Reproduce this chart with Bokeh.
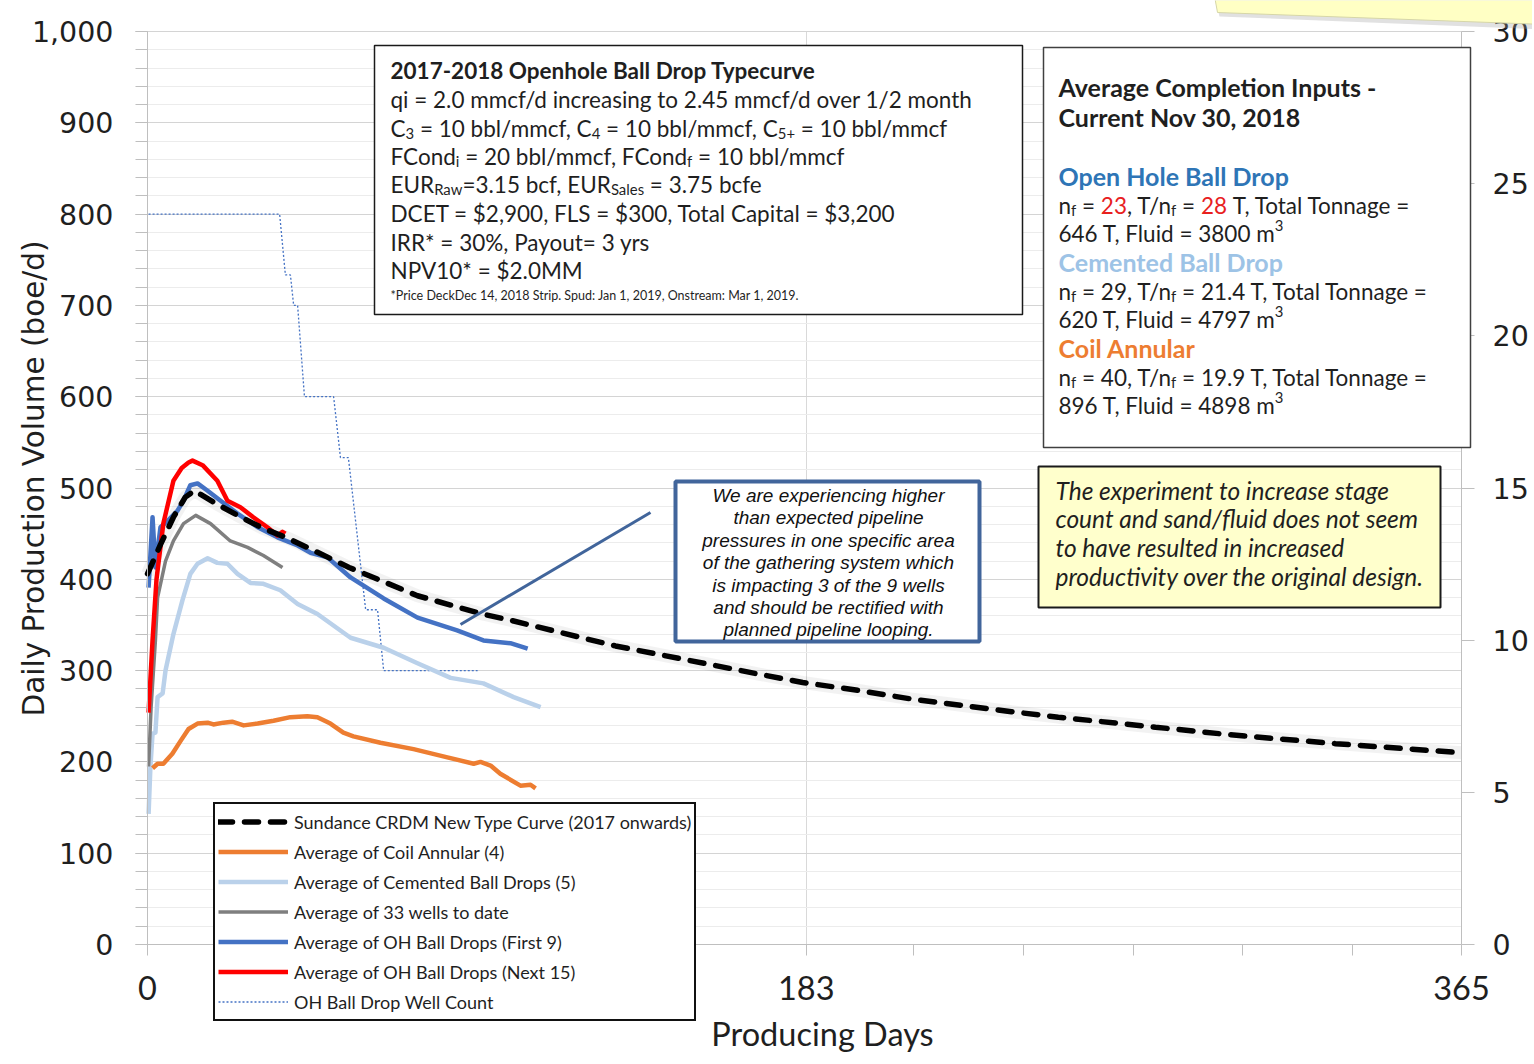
import os, glob, subprocess, math
from bokeh.plotting import figure
from bokeh.models import (Range1d, LinearAxis, SingleIntervalTicker, FixedTicker, Grid,
                          NumeralTickFormatter, Label, BoxAnnotation, PolyAnnotation,
                          Arrow, Legend, LegendItem)
from bokeh.embed import file_html
from bokeh.resources import INLINE

try:
    from PIL import ImageFont
except Exception:
    ImageFont = None

# ---------------------------------------------------------------- data
TYPE_DAYS = [0, 3.6, 7.2, 10.5, 13, 19, 26, 32, 39, 56, 75, 93, 101, 130, 170, 182,
             198, 212, 226, 240, 253, 280, 300, 330, 365]
TYPE_BOE = [406, 438, 468, 490, 497, 483, 468, 456, 445, 413, 382, 362, 355, 327, 296, 287,
            278, 269, 262, 255, 249, 238, 230, 220, 210]

COIL_DAYS = [1.4, 2.8, 4.4, 6.9, 9.2, 11.4, 13.9, 16.7, 18.3, 21.1, 23.5, 26.7, 30.6, 35.0,
             39.7, 44.4, 47.2, 50.8, 54.4, 57.2, 64.7, 73.9, 83.3, 90.6, 92.5, 95.3, 98.0,
             103.6, 106.4, 107.8]
COIL_BOE = [193, 198, 198, 209, 223, 236, 242, 243, 241, 243, 244, 240, 242, 245, 249, 250,
            249, 242, 232, 228, 221, 214, 205, 198, 200, 196, 187, 174, 175, 171]

CEM_DAYS = [0.3, 0.8, 1.4, 2.2, 2.8, 4.2, 5.0, 7.2, 9.7, 11.9, 13.9, 16.7, 19.4, 22.2, 25.0,
            28.6, 32.2, 36.9, 41.7, 47.2, 56.4, 65.6, 75.0, 84.2, 93.3, 101.7, 109.2]
CEM_BOE = [143, 194, 231, 232, 271, 275, 300, 340, 377, 406, 417, 423, 418, 417, 406, 396,
           395, 388, 373, 362, 336, 325, 308, 292, 286, 271, 260]

ALL33_DAYS = [0.3, 1.0, 2.2, 2.8, 5.0, 7.2, 10.0, 13.4, 17.5, 23.0, 27.8, 32.2, 37.5]
ALL33_BOE = [195, 260, 333, 380, 420, 442, 461, 470, 461, 442, 435, 426, 413]

OH9_DAYS = [0.3, 1.4, 2.2, 3.6, 5.6, 8.3, 10.0, 11.9, 13.9, 16.7, 20.3, 25.0, 30.6, 36.1,
            41.7, 45.3, 50.0, 56.4, 65.6, 75.0, 86.0, 93.3, 100.8, 105.6]
OH9_BOE = [391, 468, 413, 457, 464, 475, 486, 503, 505, 497, 486, 472, 457, 446, 437, 429,
           424, 402, 379, 358, 344, 333, 330, 324]

OH15_DAYS = [0.3, 1.4, 2.5, 4.4, 7.2, 9.5, 11.4, 12.5, 15.3, 19.4, 22.2, 25.8, 29.4, 33.3,
             36.1, 37.5, 38.3]
OH15_BOE = [254, 333, 400, 461, 508, 522, 528, 530, 525, 508, 486, 479, 468, 457, 448, 452,
            450]

WELL_DAYS = [0.3, 36.7, 38.3, 39.7, 40.6, 41.7, 43.6, 51.7, 53.6, 55.8, 60.6, 63.9, 65.6, 91.7]
WELL_COUNT = [24, 24, 22, 22, 21, 21, 18, 18, 16, 16, 11, 11, 9, 9]

X_TICKS = [0, 183, 365]
X_MINOR = [30.4, 60.8, 91.3, 121.7, 152.1, 212.9, 243.3, 273.8, 304.2, 334.6]

LEGEND_LABELS = ["Sundance CRDM New Type Curve (2017 onwards)", "Average of Coil Annular (4)",
                 "Average of Cemented Ball Drops (5)", "Average of 33 wells to date",
                 "Average of OH Ball Drops (First 9)", "Average of OH Ball Drops (Next 15)",
                 "OH Ball Drop Well Count"]

# ---------------------------------------------------------------- geometry (page px)
PX_L, PX_R, PY_T, PY_B = 147, 1461, 31, 944
W, H = 1532, 1062
X_MAX, Y_MAX, W_MAX = 365, 1000, 30


def X(px):
    return (px - PX_L) * X_MAX / (PX_R - PX_L)


def Y(py):
    return (PY_B - py) * Y_MAX / (PY_B - PY_T)


# ---------------------------------------------------------------- font measuring
FONT_FILES = {
    ("Lato", "normal"): ["Lato-Regular.ttf"],
    ("Lato", "bold"): ["Lato-Bold.ttf"],
    ("Lato", "italic"): ["Lato-Italic.ttf"],
    ("Liberation Sans", "italic"): ["LiberationSans-Italic.ttf"],
    ("DejaVu Sans", "normal"): ["DejaVuSans.ttf"],
}
FC_PAT = {
    ("Lato", "normal"): "Lato:style=Regular",
    ("Lato", "bold"): "Lato:style=Bold",
    ("Lato", "italic"): "Lato:style=Italic",
    ("Liberation Sans", "italic"): "Liberation Sans:style=Italic",
    ("DejaVu Sans", "normal"): "DejaVu Sans:style=Book",
}
_FC = {}


def font_obj(fam, style):
    key = (fam, style)
    if key in _FC:
        return _FC[key]
    path = None
    roots = ["/usr/share/fonts", "/usr/local/share/fonts",
             os.path.expanduser("~/.fonts"), os.path.expanduser("~/.local/share/fonts")]
    for n in FONT_FILES.get(key, []):
        for r in roots:
            hits = glob.glob(os.path.join(r, "**", n), recursive=True)
            if hits:
                path = hits[0]
                break
        if path:
            break
    if path is None:
        try:
            res = subprocess.run(["fc-match", "-f", "%{file}", FC_PAT[key]],
                                 capture_output=True, text=True, timeout=5)
            cand = res.stdout.strip()
            if cand and os.path.exists(cand):
                path = cand
        except Exception:
            pass
    f = None
    if path and ImageFont is not None:
        try:
            f = ImageFont.truetype(path, 200)
        except Exception:
            f = None
    _FC[key] = f
    return f


def text_w(text, fam, style, size):
    f = font_obj(fam, style)
    if f is None:
        return len(text) * size * (0.6 if fam == "DejaVu Sans" else 0.5)
    return f.getlength(text) * size / 200.0


def fit(text, fam, style, target, default):
    w1 = text_w(text, fam, style, 1.0)
    if font_obj(fam, style) is None or w1 <= 0:
        return default
    return round(target / w1 * 2) / 2


TXT = "#1F1F1F"

S_TC = fit("qi = 2.0 mmcf/d increasing to 2.45 mmcf/d over 1/2 month", "Lato", "normal", 584, 21)
S_TCB = fit("2017-2018 Openhole Ball Drop Typecurve", "Lato", "bold", 424, 21)
S_FOOT = fit("*Price DeckDec 14, 2018 Strip.  Spud: Jan 1, 2019, Onstream: Mar 1, 2019.",
             "Lato", "normal", 403, 10)
S_CB = fit("620 T, Fluid = 4797 m", "Lato", "normal", 216, 21)
S_CBB = fit("Average Completion Inputs -", "Lato", "bold", 318, 21)
S_YEL = fit("productivity over the original design.", "Lato", "italic", 365, 21)
S_CALL = fit("of the gathering system which", "Liberation Sans", "italic", 250, 17)
S_LEG = fit(LEGEND_LABELS[0], "Lato", "normal", 399, 18)
S_XLAB = fit("Producing Days", "Lato", "normal", 221, 29)
S_YTICK = fit("1,000", "DejaVu Sans", "normal", 82, 28)
S_YLAB = fit("Daily Production Volume (boe/d)", "DejaVu Sans", "normal", 475, 26)

# ---------------------------------------------------------------- figure
# The frame covers the whole canvas so that nothing (legend, notes, edge tick labels)
# is clipped; the axes are drawn at fixed locations and bounded to the data extents.
p = figure(width=W, height=H, output_backend="svg", toolbar_location=None,
           x_range=Range1d(X(0), X(W)), y_range=Range1d(Y(H), Y(0)),
           min_border_left=0, min_border_top=0, min_border_right=0, min_border_bottom=0)
p.outline_line_color = None
p.background_fill_color = "white"
p.border_fill_color = "white"
p.extra_y_ranges = {"wells": Range1d(Y(H) * W_MAX / Y_MAX, Y(0) * W_MAX / Y_MAX)}

AX_COL = "#BFBFBF"
# x axis (at y = 0)
xa = p.xaxis[0]
xa.fixed_location = 0
xa.bounds = (0, X_MAX)
xa.ticker = FixedTicker(ticks=X_TICKS, minor_ticks=X_MINOR)
xa.major_label_text_font = "Lato"
xa.major_label_text_font_size = f"{S_XLAB}px"
xa.major_label_text_color = TXT
xa.major_label_standoff = 20
xa.axis_line_color = AX_COL
xa.major_tick_line_color = AX_COL
xa.minor_tick_line_color = AX_COL
xa.major_tick_out = 11
xa.major_tick_in = 0
xa.minor_tick_out = 11
xa.minor_tick_in = 0

# left axis (at x = 0)
ya = p.yaxis[0]
ya.fixed_location = 0
ya.bounds = (0, Y_MAX)
ya.ticker = SingleIntervalTicker(interval=100, num_minor_ticks=5)
ya.formatter = NumeralTickFormatter(format="0,0")
ya.major_label_text_font = "DejaVu Sans"
ya.major_label_text_font_size = f"{S_YTICK}px"
ya.major_label_text_color = TXT
ya.major_label_standoff = 22
ya.axis_line_color = AX_COL
ya.major_tick_line_color = AX_COL
ya.minor_tick_line_color = AX_COL
ya.major_tick_out = 12
ya.major_tick_in = 0
ya.minor_tick_out = 12
ya.minor_tick_in = 0

# right axis (well count, at x = 365)
ra = LinearAxis(y_range_name="wells", bounds=(0, W_MAX), fixed_location=X_MAX,
                ticker=SingleIntervalTicker(interval=5, num_minor_ticks=0))
ra.major_label_text_font = "DejaVu Sans"
ra.major_label_text_font_size = f"{S_YTICK}px"
ra.major_label_text_color = TXT
ra.major_label_standoff = 18
ra.axis_line_color = AX_COL
ra.major_tick_line_color = AX_COL
ra.minor_tick_line_color = None
ra.major_tick_out = 13
ra.major_tick_in = 0
p.add_layout(ra, "right")

# axis titles
p.add_layout(Label(x=X(33), y=Y(478), text="Daily Production Volume (boe/d)",
                   angle=math.pi / 2, text_font="DejaVu Sans",
                   text_font_size=f"{S_YLAB}px", text_color=TXT,
                   text_align="center", text_baseline="middle"))
p.add_layout(Label(x=X(822), y=Y(1033), text="Producing Days", text_font="Lato",
                   text_font_size=f"{S_XLAB}px", text_color=TXT,
                   text_align="center", text_baseline="middle"))

# grids
MAJ_GRID, MIN_GRID, V_GRID = "#D4D4D4", "#ECECEC", "#D9D9D9"
if "cross_bounds" in Grid.properties():
    p.ygrid.bounds = (0, Y_MAX)
    p.ygrid.cross_bounds = (0, X_MAX)
    p.ygrid.grid_line_color = MAJ_GRID
    p.ygrid.minor_grid_line_color = MIN_GRID
    p.xgrid.bounds = (0, X_MAX)
    p.xgrid.cross_bounds = (0, Y_MAX)
    p.xgrid.grid_line_color = V_GRID
else:
    p.xgrid.visible = False
    p.ygrid.visible = False
    for yv in range(20, Y_MAX + 1, 20):
        p.add_layout(BoxAnnotation(left=0, right=X_MAX, bottom=yv, top=yv, fill_alpha=0,
                                   line_color=MAJ_GRID if yv % 100 == 0 else MIN_GRID,
                                   line_alpha=1, line_width=1, level="underlay"))
    for xv in X_TICKS[1:]:
        p.add_layout(BoxAnnotation(left=xv, right=xv, bottom=0, top=Y_MAX, fill_alpha=0,
                                   line_color=V_GRID, line_alpha=1, line_width=1,
                                   level="underlay"))

# ---------------------------------------------------------------- series
p.line(TYPE_DAYS, TYPE_BOE, line_color="black", line_alpha=0.05, line_width=13)
r_wells = p.line(WELL_DAYS, WELL_COUNT, y_range_name="wells", line_color="#4472C4",
                 line_width=1.3, line_dash="2 2")
r_cem = p.line(CEM_DAYS, CEM_BOE, line_color="#BAD1EA", line_width=4.5, line_join="round")
r_coil = p.line(COIL_DAYS, COIL_BOE, line_color="#ED7D31", line_width=4.5, line_join="round")
r_all = p.line(ALL33_DAYS, ALL33_BOE, line_color="#7F7F7F", line_width=3.5, line_join="round")
r_oh9 = p.line(OH9_DAYS, OH9_BOE, line_color="#4472C4", line_width=4.5, line_join="round")
r_oh15 = p.line(OH15_DAYS, OH15_BOE, line_color="#FF0000", line_width=4.5, line_join="round")
r_type = p.line(TYPE_DAYS, TYPE_BOE, line_color="black", line_width=5.5, line_dash="14 12",
                line_cap="round")

# ---------------------------------------------------------------- annotations
CALL_COL = "#41659B"
p.add_layout(Arrow(end=None, x_start=X(650), y_start=Y(512), x_end=X(460), y_end=Y(624),
                   line_color=CALL_COL, line_width=3))


def box(l, t, r, b, fill, line, lw):
    p.add_layout(BoxAnnotation(left=X(l), right=X(r), top=Y(t), bottom=Y(b),
                               fill_color=fill, fill_alpha=1, line_color=line,
                               line_alpha=1, line_width=lw))


box(374, 45, 1022, 314, "white", "#1A1A1A", 1.5)
box(1043, 47, 1470, 447, "white", "#404040", 1.5)
box(1038, 466, 1440, 607, "#FFFFCC", "#1A1A1A", 2)
box(675, 481, 979, 641, "white", CALL_COL, 4)


def label(px, py, text, size, fam="Lato", style="normal", color=TXT, align="left"):
    p.add_layout(Label(x=X(px), y=Y(py), text=text, text_font=fam,
                       text_font_size=f"{size}px", text_font_style=style,
                       text_color=color, text_baseline="alphabetic", text_align=align))


def rich(px, py, runs, size, bsize=None, fam="Lato"):
    off = 0.0
    for txt, o in runs:
        st = o.get("style", "normal")
        sc = o.get("script")
        base = bsize if (st == "bold" and bsize) else size
        sz = round(base * 0.66, 1) if sc else base
        lead = len(txt) - len(txt.lstrip(" "))
        t = txt.strip(" ")
        dx = text_w(" " * lead, fam, st, sz) if lead else 0.0
        dy = 0.0
        if sc == "sub":
            dy = 0.2 * size
        elif sc == "sup":
            dy = -0.36 * size
        if t:
            label(px + off + dx, py + dy, t, sz, fam, st, o.get("color", TXT))
        off += text_w(txt, fam, st, sz)


N = {}
B = {"style": "bold"}
SUB = {"script": "sub"}
SUP = {"script": "sup"}
RED = {"color": "#E8201E"}

# type-curve box
TC_LINES = [
    (70, [("2017-2018 Openhole Ball Drop Typecurve", B)]),
    (99, [("qi = 2.0 mmcf/d increasing to 2.45 mmcf/d over 1/2 month", N)]),
    (128, [("C", N), ("3", SUB), (" = 10 bbl/mmcf, C", N), ("4", SUB), (" = 10 bbl/mmcf, C", N),
           ("5+", SUB), (" = 10 bbl/mmcf", N)]),
    (156, [("FCond", N), ("i", SUB), (" = 20 bbl/mmcf, FCond", N), ("f", SUB),
           (" = 10 bbl/mmcf", N)]),
    (184, [("EUR", N), ("Raw", SUB), ("=3.15 bcf, EUR", N), ("Sales", SUB),
           (" = 3.75 bcfe", N)]),
    (213, [("DCET = $2,900, FLS = $300, Total Capital = $3,200", N)]),
    (242, [("IRR* = 30%, Payout= 3 yrs", N)]),
    (270, [("NPV10* = $2.0MM", N)]),
]
for py, runs in TC_LINES:
    rich(390, py, runs, S_TC, S_TCB)
label(390, 295, "*Price DeckDec 14, 2018 Strip.  Spud: Jan 1, 2019, Onstream: Mar 1, 2019.",
      S_FOOT)

# completion box
CB_LINES = [
    (86, [("Average Completion Inputs -", B)]),
    (116, [("Current Nov 30, 2018", B)]),
    (175, [("Open Hole Ball Drop", {"style": "bold", "color": "#2E75B6"})]),
    (205, [("n", N), ("f", SUB), (" = ", N), ("23", RED), (", T/n", N), ("f", SUB), (" = ", N),
           ("28", RED), (" T, Total Tonnage =", N)]),
    (233, [("646 T, Fluid = 3800 m", N), ("3", SUP)]),
    (261, [("Cemented Ball Drop", {"style": "bold", "color": "#9DC3E6"})]),
    (291, [("n", N), ("f", SUB), (" = 29, T/n", N), ("f", SUB),
           (" = 21.4 T, Total Tonnage =", N)]),
    (319, [("620 T, Fluid = 4797 m", N), ("3", SUP)]),
    (347, [("Coil Annular", {"style": "bold", "color": "#ED7D31"})]),
    (377, [("n", N), ("f", SUB), (" = 40, T/n", N), ("f", SUB),
           (" = 19.9 T, Total Tonnage =", N)]),
    (405, [("896 T, Fluid = 4898 m", N), ("3", SUP)]),
]
for py, runs in CB_LINES:
    rich(1058, py, runs, S_CB, S_CBB)

# yellow comment box
YEL_LINES = ["The experiment to increase stage", "count and sand/fluid does not seem",
             "to have resulted in increased", "productivity over the original design."]
for i, t in enumerate(YEL_LINES):
    label(1055, 489.5 + i * 28.7, t, S_YEL, "Lato", "italic")

# blue callout
CALL_LINES = ["We are experiencing higher", "than expected pipeline",
              "pressures in one specific area", "of the gathering system which",
              "is impacting 3 of the 9 wells", "and should be rectified with",
              "planned pipeline looping."]
for i, t in enumerate(CALL_LINES):
    label(828, 495 + i * 22.4, t, S_CALL, "Liberation Sans", "italic", "#111111", "center")

# sticky note remnant at top right (with soft shadow)
p.add_layout(PolyAnnotation(xs=[X(1213), X(1545), X(1545), X(1219)],
                            ys=[Y(-10), Y(-10), Y(29), Y(16)],
                            fill_color="#9A9A9A", fill_alpha=0.3, line_alpha=0,
                            level="overlay"))
p.add_layout(PolyAnnotation(xs=[X(1213), X(1545), X(1545), X(1217)],
                            ys=[Y(-10), Y(-10), Y(24), Y(12)],
                            fill_color="#FFFFC4", fill_alpha=1, line_color="#D6D6A8",
                            line_alpha=1, line_width=1, level="overlay"))

# ---------------------------------------------------------------- legend
legend = Legend(items=[
    LegendItem(label=LEGEND_LABELS[0], renderers=[r_type]),
    LegendItem(label=LEGEND_LABELS[1], renderers=[r_coil]),
    LegendItem(label=LEGEND_LABELS[2], renderers=[r_cem]),
    LegendItem(label=LEGEND_LABELS[3], renderers=[r_all]),
    LegendItem(label=LEGEND_LABELS[4], renderers=[r_oh9]),
    LegendItem(label=LEGEND_LABELS[5], renderers=[r_oh15]),
    LegendItem(label=LEGEND_LABELS[6], renderers=[r_wells]),
], location=(213, H - 1021), glyph_width=70, glyph_height=29, spacing=1,
    padding=3, margin=0, label_standoff=6, label_text_font="Lato",
    label_text_font_size=f"{S_LEG}px", label_text_color=TXT,
    border_line_color="#111111", border_line_width=2, border_line_alpha=1,
    background_fill_color="white", background_fill_alpha=1)
p.add_layout(legend)

open("out.html", "w").write(file_html(p, INLINE))
